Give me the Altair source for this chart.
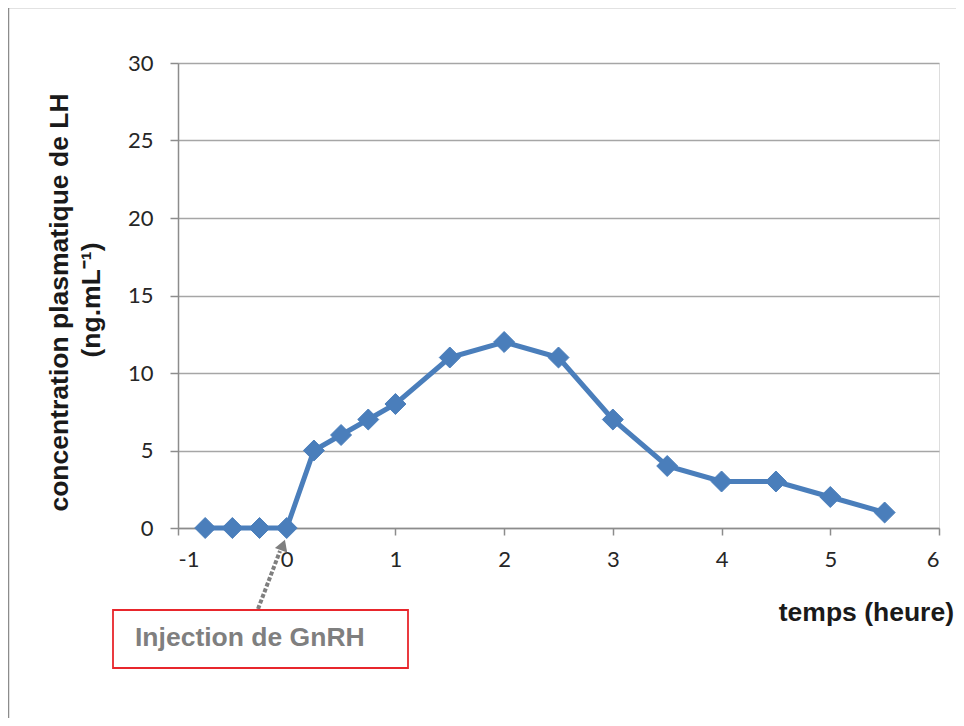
import altair as alt
import pandas as pd

# Data
temps = [-0.75, -0.5, -0.25, 0, 0.25, 0.5, 0.75, 1, 1.5, 2, 2.5, 3, 3.5, 4, 4.5, 5, 5.5]
lh = [0, 0, 0, 0, 5, 6, 7, 8, 11, 12, 11, 7, 4, 3, 3, 2, 1]
x_ticks = [-1, 0, 1, 2, 3, 4, 5, 6]
y_ticks = [0, 5, 10, 15, 20, 25, 30]
y_title = ["concentration plasmatique de LH", "(ng.mL⁻¹)"]
x_title = "temps (heure)"
note = "Injection de GnRH"

df = pd.DataFrame({"temps": temps, "lh": lh})
one = pd.DataFrame({"k": [0]})

W, H = 761, 465
BLUE = "#4a7ebb"
TICK_FONT = "Lato"
BOLD_FONT = "Liberation Sans"

x_enc = alt.X("temps:Q", scale=alt.Scale(domain=[-1, 6], nice=False, zero=False),
              axis=alt.Axis(values=x_ticks, title=None, grid=False,
                            labelExpr="'' + datum.value",
                            tickSize=7, labelPadding=14, domainColor="#8c8c8c",
                            tickColor="#8c8c8c", domainWidth=1.5, tickWidth=1.5,
                            labelFont=TICK_FONT, labelFontSize=22, labelColor="#262626"))
y_enc = alt.Y("lh:Q", scale=alt.Scale(domain=[0, 30], nice=False),
              axis=alt.Axis(values=y_ticks, title=None, grid=True, gridColor="#a6a6a6",
                            gridWidth=1.5, tickSize=8, labelPadding=17,
                            domainColor="#8c8c8c", tickColor="#8c8c8c",
                            domainWidth=1.5, tickWidth=1.5,
                            labelFont=TICK_FONT, labelFontSize=22, labelColor="#262626"))

line = alt.Chart(df).mark_line(color=BLUE, strokeWidth=5).encode(x=x_enc, y=y_enc)
pts = alt.Chart(df).mark_point(shape="diamond", filled=True, size=440, color=BLUE,
                               stroke=BLUE, strokeWidth=1, opacity=1).encode(x="temps:Q", y="lh:Q")

# outer frame (top + left border)
frame_top = alt.Chart(one).mark_rule(color="#8c8c8c", strokeWidth=1.5, clip=False).encode(
    x=alt.value(-171), x2=alt.value(W + 17), y=alt.value(-55.5), y2=alt.value(-55.5))
frame_left = alt.Chart(one).mark_rule(color="#8c8c8c", strokeWidth=1.5, clip=False).encode(
    x=alt.value(-169.5), x2=alt.value(-169.5), y=alt.value(-56), y2=alt.value(H + 190))

# y title (two lines, rotated)
yt1 = alt.Chart(one).mark_text(text=y_title[0], angle=270, font=BOLD_FONT, fontWeight="bold",
                               fontSize=26.5, color="#1a1a1a", align="center",
                               baseline="alphabetic").encode(x=alt.value(68 - 178), y=alt.value(239.5))
yt2 = alt.Chart(one).mark_text(text=y_title[1], angle=270, font=BOLD_FONT, fontWeight="bold",
                               fontSize=26.5, color="#1a1a1a", align="center",
                               baseline="alphabetic").encode(x=alt.value(100 - 178), y=alt.value(237))

# x title
xt = alt.Chart(one).mark_text(text=x_title, font=BOLD_FONT, fontWeight="bold", fontSize=26.5,
                              color="#1a1a1a", align="right", baseline="middle").encode(
    x=alt.value(776), y=alt.value(550))

# annotation box + text + arrow
box = alt.Chart(one).mark_rect(fill="white", stroke="#e8262c", strokeWidth=1.8, clip=False).encode(
    x=alt.value(113 - 178), x2=alt.value(408 - 178), y=alt.value(610 - 63), y2=alt.value(668 - 63))
box_text = alt.Chart(one).mark_text(text=note, font=BOLD_FONT, fontWeight="bold", fontSize=26.5,
                                    color="#7f7f7f", align="left", baseline="middle").encode(
    x=alt.value(135 - 178), y=alt.value(638 - 63))
arrow = alt.Chart(one).mark_rule(color="#7f7f7f", strokeWidth=4, strokeDash=[4, 2]).encode(
    x=alt.value(258 - 178), y=alt.value(609 - 63), x2=alt.value(280 - 178), y2=alt.value(551 - 63))
head = alt.Chart(one).mark_point(shape="triangle-up", filled=True, size=170, color="#7f7f7f",
                                 opacity=1, angle=20).encode(
    x=alt.value(283 - 178), y=alt.value(545 - 63))

chart = alt.layer(frame_top, frame_left, line, pts, yt1, yt2, xt, arrow, head, box, box_text).properties(
    width=W, height=H,
    autosize=alt.AutoSizeParams(type="none"),
    padding={"left": 170, "top": 55, "right": 17, "bottom": 190},
).configure_view(stroke=None).configure(background="white")

chart.save("out.html", embed_options={"renderer": "svg", "actions": False})
